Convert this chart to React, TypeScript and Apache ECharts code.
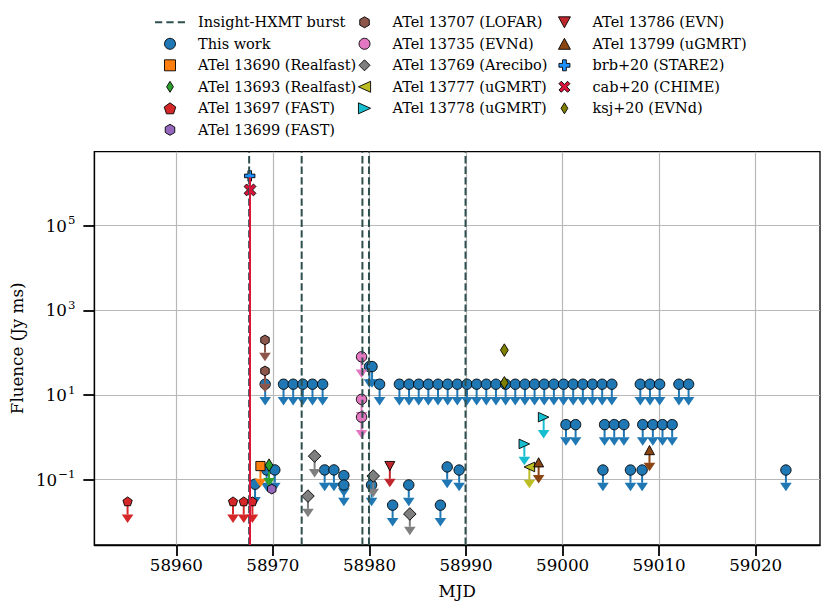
import React, { useEffect, useRef } from 'react';
import * as echarts from 'echarts';

const FONT = "'DejaVu Serif', serif";

// ---- axes ----
const xTickValues = [58960, 58970, 58980, 58990, 59000, 59010, 59020];
const yTickValues = [0.1, 10, 1000, 100000];
const xLimits = [58951.51, 59026.66];
const yLimits = [0.002864, 5.6e6];

// ---- data: [MJD, fluence (Jy ms)] ----
const hxmtBursts = [58967.54, 58972.98, 58979.27, 58979.95, 58989.95];

const thisWork = [
  [58969.2, 18], [58971.1, 18], [58972.1, 18], [58973.1, 18], [58974.1, 18], [58975.15, 18],
  [58981.05, 18],
  [58983.1, 18], [58984.1, 18], [58985.1, 18], [58986.1, 18], [58987.1, 18], [58988.1, 18],
  [58989.1, 18], [58990.1, 18], [58991.1, 18], [58992.1, 18], [58993.1, 18], [58994.1, 18],
  [58995.1, 18], [58996.1, 18], [58997.1, 18], [58998.1, 18], [58999.1, 18], [59000.1, 18],
  [59001.1, 18], [59002.1, 18], [59003.1, 18], [59004.1, 18], [59005.1, 18],
  [59008.05, 18], [59009.05, 18], [59010.05, 18], [59012.05, 18], [59013.05, 18],
  [58980.0, 47], [58980.27, 47],
  [59000.35, 2.0], [59001.35, 2.0], [59004.35, 2.0], [59005.35, 2.0], [59006.35, 2.0],
  [59008.3, 2.0], [59009.35, 2.0], [59010.35, 2.0], [59011.35, 2.0],
  [58968.15, 0.078], [58969.35, 0.17], [58970.2, 0.17], [58975.36, 0.17], [58976.32, 0.17],
  [58977.35, 0.125], [58977.35, 0.075], [58980.22, 0.075], [58982.4, 0.025], [58984.07, 0.075],
  [58987.35, 0.025], [58988.05, 0.2], [58989.29, 0.169], [59004.18, 0.169], [59007.03, 0.169],
  [59008.24, 0.169], [59023.13, 0.169],
];
const atel13690 = [[58968.71, 0.21]];
const atel13693 = [[58969.6, 0.22]];
const atel13697 = [[58954.95, 0.03], [58965.87, 0.03], [58966.98, 0.03], [58967.88, 0.03]];
const atel13699 = [[58969.88, 0.06]];
const atel13707 = [[58969.18, 200], [58969.18, 37]];
const atel13735 = [[58979.18, 80], [58979.18, 7.9], [58979.18, 3.0]];
const atel13769 = [[58973.63, 0.041], [58974.32, 0.36], [58980.39, 0.122], [58984.18, 0.0155]];
const atel13777 = [[58996.56, 0.2]];
const atel13778 = [[58996.04, 0.7], [58998.04, 3.0]];
const atel13786 = [[58982.11, 0.21]];
const atel13799 = [[58997.52, 0.257], [59009.0, 0.5]];
const brb20 = [[58967.6, 1.5e6]];
const cab20 = [[58967.63, 7.0e5]];
const cab20ErrTop = 1.4e6;
const ksj20 = [[58993.97, 115], [58993.97, 19.4]];

// ---- marker geometry ----
const regPoly = (n: number, r: number) =>
  Array.from({ length: n }, (_, i) => {
    const a = ((-90 + (360 * i) / n) * Math.PI) / 180;
    return [r * Math.cos(a), r * Math.sin(a)];
  });
const rotate = (pts: number[][], deg: number) => {
  const a = (deg * Math.PI) / 180;
  return pts.map(([x, y]) => [x * Math.cos(a) - y * Math.sin(a), x * Math.sin(a) + y * Math.cos(a)]);
};
const plusPts = (h: number, w: number) => [
  [-w, -h], [w, -h], [w, -w], [h, -w], [h, w], [w, w], [w, h], [-w, h], [-w, w], [-h, w], [-h, -w], [-w, -w],
];

const SHAPES: Record<string, number[][]> = {
  square: [[-4.6, -4.6], [4.6, -4.6], [4.6, 4.6], [-4.6, 4.6]],
  diamond: [[0, -6.3], [6.3, 0], [0, 6.3], [-6.3, 0]],
  thinDiamond: [[0, -6.3], [3.9, 0], [0, 6.3], [-3.9, 0]],
  pentagon: regPoly(5, 4.9),
  hexagon: regPoly(6, 4.9),
  triDown: [[-5, -4.6], [5, -4.6], [0, 4.6]],
  triUp: [[0, -4.6], [5, 4.6], [-5, 4.6]],
  triLeft: [[-5.3, 0], [5.3, -4.8], [5.3, 4.8]],
  triRight: [[5.3, 0], [-5.3, -4.8], [-5.3, 4.8]],
  plus: plusPts(5.2, 1.8),
  cross: rotate(plusPts(6.6, 1.8), 45),
};

const iconPath = (shape: string) => {
  if (shape === 'circle') return 'circle';
  const pts = SHAPES[shape];
  return 'path://M' + pts.map((p) => `${p[0].toFixed(2)},${p[1].toFixed(2)}`).join('L') + 'Z';
};
const dashIcon = 'path://M0,0H7V2H0ZM11,0H18V2H11ZM22,0H29V2H22Z';

const datasets = [
  { name: 'This work', color: '#1f77b4', shape: 'circle', data: thisWork, arrow: true },
  { name: 'ATel 13690 (Realfast)', color: '#ff7f0e', shape: 'square', data: atel13690, arrow: true },
  { name: 'ATel 13693 (Realfast)', color: '#2ca02c', shape: 'thinDiamond', data: atel13693, arrow: true },
  { name: 'ATel 13697 (FAST)', color: '#d62728', shape: 'pentagon', data: atel13697, arrow: true },
  { name: 'ATel 13699 (FAST)', color: '#9467bd', shape: 'hexagon', data: atel13699, arrow: false },
  { name: 'ATel 13707 (LOFAR)', color: '#8c564b', shape: 'hexagon', data: atel13707, arrow: true },
  { name: 'ATel 13735 (EVNd)', color: '#e377c2', shape: 'circle', data: atel13735, arrow: true },
  { name: 'ATel 13769 (Arecibo)', color: '#7f7f7f', shape: 'diamond', data: atel13769, arrow: true },
  { name: 'ATel 13777 (uGMRT)', color: '#bcbd22', shape: 'triLeft', data: atel13777, arrow: true },
  { name: 'ATel 13778 (uGMRT)', color: '#17becf', shape: 'triRight', data: atel13778, arrow: true },
  { name: 'ATel 13786 (EVN)', color: '#c0272d', shape: 'triDown', data: atel13786, arrow: true },
  { name: 'ATel 13799 (uGMRT)', color: '#8b4513', shape: 'triUp', data: atel13799, arrow: true },
  { name: 'brb+20 (STARE2)', color: '#1e90ff', shape: 'plus', data: brb20, arrow: false },
  { name: 'cab+20 (CHIME)', color: '#dc143c', shape: 'cross', data: cab20, arrow: false, errTop: cab20ErrTop },
  { name: 'ksj+20 (EVNd)', color: '#808000', shape: 'thinDiamond', data: ksj20, arrow: false },
];

const HXMT_NAME = 'Insight-HXMT burst';
const HXMT_COLOR = '#2f4f4f';
const legendColumns = [
  [HXMT_NAME, 'This work', 'ATel 13690 (Realfast)', 'ATel 13693 (Realfast)', 'ATel 13697 (FAST)', 'ATel 13699 (FAST)'],
  ['ATel 13707 (LOFAR)', 'ATel 13735 (EVNd)', 'ATel 13769 (Arecibo)', 'ATel 13777 (uGMRT)', 'ATel 13778 (uGMRT)'],
  ['ATel 13786 (EVN)', 'ATel 13799 (uGMRT)', 'brb+20 (STARE2)', 'cab+20 (CHIME)', 'ksj+20 (EVNd)'],
];
const legendLefts = [155, 358, 558];

function markerEl(shape: string, p: number[], color: string, z2: number) {
  const style = { fill: color, stroke: '#000', lineWidth: 0.9 };
  if (shape === 'circle') return { type: 'circle', z2, shape: { cx: p[0], cy: p[1], r: 5.2 }, style };
  const pts = SHAPES[shape].map(([dx, dy]) => [p[0] + dx, p[1] + dy]);
  return { type: 'polygon', z2, shape: { points: pts }, style };
}

function buildOption() {
  const series: any[] = datasets.map((d, k) => ({
    type: 'custom',
    name: d.name,
    data: d.data,
    itemStyle: { color: d.color },
    renderItem: (params: any, api: any) => {
      const x = api.value(0);
      const y = api.value(1);
      const p = api.coord([x, y]);
      const children: any[] = [];
      if (d.arrow) {
        const q = api.coord([x, y * 0.5]);
        children.push({
          type: 'line', z2: 2 * k,
          shape: { x1: p[0], y1: p[1], x2: q[0], y2: q[1] },
          style: { stroke: d.color, lineWidth: 2 },
        });
        children.push({
          type: 'polygon', z2: 2 * k,
          shape: { points: [[q[0] - 5.8, q[1]], [q[0] + 5.8, q[1]], [q[0], q[1] + 8.5]] },
          style: { fill: d.color },
        });
      }
      if ((d as any).errTop) {
        const cs = params.coordSys;
        const t = api.coord([x, (d as any).errTop]);
        children.push({
          type: 'line', z2: 45,
          shape: { x1: t[0], y1: t[1], x2: t[0], y2: cs.y + cs.height },
          style: { stroke: d.color, lineWidth: 2 },
        });
      }
      children.push(markerEl(d.shape, p, d.color, 2 * k + 1));
      return { type: 'group', children };
    },
  }));

  series.unshift({
    type: 'custom',
    name: HXMT_NAME,
    data: hxmtBursts.map((v) => [v, 1]),
    itemStyle: { color: HXMT_COLOR },
    renderItem: (params: any, api: any) => {
      const cs = params.coordSys;
      const x = api.coord([api.value(0), 1])[0];
      return {
        type: 'line', z2: 40,
        shape: { x1: x, y1: cs.y + cs.height, x2: x, y2: cs.y },
        style: { stroke: HXMT_COLOR, lineWidth: 2, lineDash: [7.4, 3.2] },
      };
    },
  });

  const legendItem = (name: string) => {
    if (name === HXMT_NAME) return { name, icon: dashIcon, itemStyle: { color: HXMT_COLOR, borderWidth: 0 } };
    const d = datasets.find((s) => s.name === name)!;
    return { name, icon: iconPath(d.shape), itemStyle: { color: d.color, borderColor: '#000', borderWidth: 0.9 } };
  };

  const legend = legendColumns.map((col, i) => ({
    orient: 'vertical',
    left: legendLefts[i],
    top: 14.3,
    padding: 0,
    itemWidth: 30,
    itemHeight: 11,
    itemGap: 5.5,
    selectedMode: false,
    textStyle: { fontFamily: FONT, fontSize: 14.5, color: '#000', lineHeight: 16, padding: [0, 0, 0, 8] },
    data: col.map(legendItem),
  }));

  const sup = (e: number) => (e < 0 ? '\u2212' + -e : String(e));

  return {
    animation: false,
    backgroundColor: '#fff',
    legend,
    grid: {
      left: 93.3, top: 151.7, width: 726.7, height: 393.3,
      show: true, borderColor: '#000', borderWidth: 1.3, backgroundColor: 'transparent',
    },
    xAxis: {
      type: 'value',
      min: xLimits[0],
      max: xLimits[1],
      name: 'MJD',
      nameLocation: 'middle',
      nameGap: 37,
      nameTextStyle: { fontFamily: FONT, fontSize: 16.7, color: '#000' },
      axisLine: { show: true, lineStyle: { color: '#000', width: 1.3 } },
      axisTick: { show: true, length: 11, lineStyle: { color: '#000', width: 1.8 }, customValues: xTickValues },
      axisLabel: {
        customValues: xTickValues,
        margin: 11,
        fontFamily: FONT, fontSize: 16.7, color: '#000',
        formatter: (v: number) => String(Math.round(v)),
      },
      splitLine: { show: true, lineStyle: { color: '#b8b8b8', width: 1.2 } },
    },
    yAxis: {
      type: 'log',
      logBase: 10,
      min: yLimits[0],
      max: yLimits[1],
      name: 'Fluence (Jy ms)',
      nameLocation: 'middle',
      nameGap: 65,
      nameRotate: 90,
      nameTextStyle: { fontFamily: FONT, fontSize: 16.7, color: '#000' },
      axisLine: { show: true, lineStyle: { color: '#000', width: 1.3 } },
      axisTick: { show: true, length: 11, lineStyle: { color: '#000', width: 1.8 }, customValues: yTickValues },
      axisLabel: {
        customValues: yTickValues,
        margin: 19,
        formatter: (v: number) => `{b|10}{s|${sup(Math.round(Math.log10(v)))}}`,
        rich: {
          b: { fontFamily: FONT, fontSize: 16.7, color: '#000' },
          s: { fontFamily: FONT, fontSize: 11.7, color: '#000', padding: [0, 0, 11, 1] },
        },
      },
      splitLine: { show: true, lineStyle: { color: '#b8b8b8', width: 1.2 } },
    },
    series,
  };
}

export default function App() {
  const ref = useRef<HTMLDivElement>(null);
  useEffect(() => {
    const chart = echarts.init(ref.current!, null, { renderer: 'svg' });
    chart.setOption(buildOption() as any);
    return () => chart.dispose();
  }, []);
  return (
    <div
      ref={ref}
      style={{ position: 'absolute', left: 0, top: 0, width: 831, height: 613, background: '#fff' }}
    />
  );
}
